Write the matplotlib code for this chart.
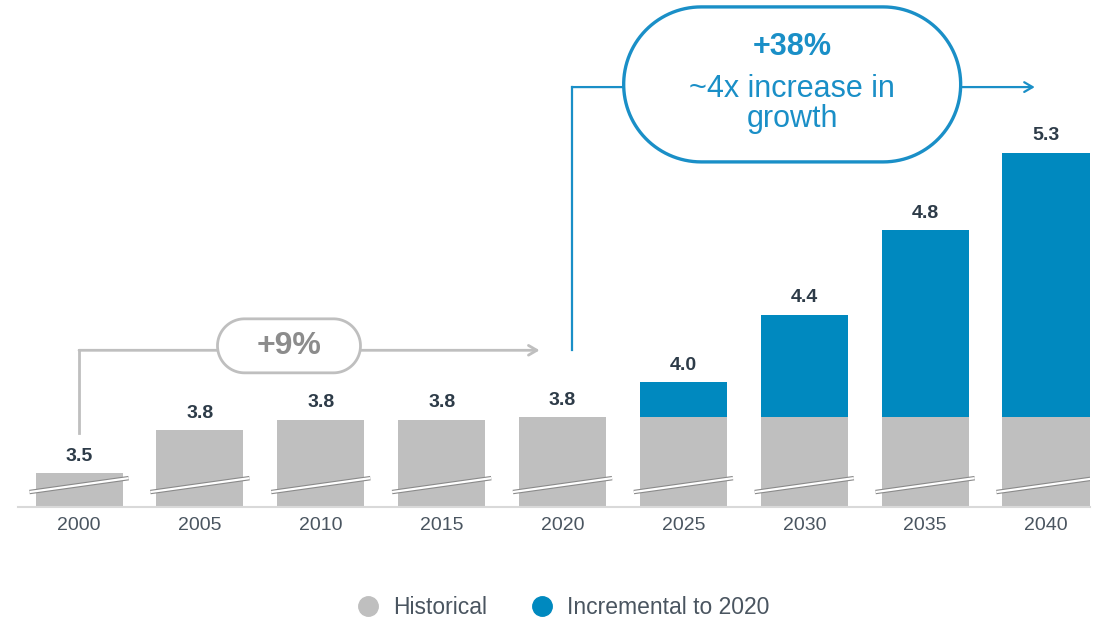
import numpy as np
import matplotlib.pyplot as plt
from matplotlib.patches import Polygon
from matplotlib.lines import Line2D
from matplotlib.transforms import IdentityTransform

plt.rcParams['font.family'] = ['Liberation Sans', 'DejaVu Sans']

# Data
years = ["2000", "2005", "2010", "2015", "2020", "2025", "2030", "2035", "2040"]
historical = [3.50, 3.74, 3.80, 3.80, 3.815, 3.815, 3.815, 3.815, 3.815]
totals = [3.50, 3.74, 3.80, 3.80, 3.815, 4.01, 4.39, 4.865, 5.30]
value_labels = ["3.5", "3.8", "3.8", "3.8", "3.8", "4.0", "4.4", "4.8", "5.3"]
incremental = [t - h for t, h in zip(totals, historical)]

GRAY = "#bfbfbf"
BLUE = "#0089bf"
LINE_BLUE = "#1a8fc7"
DARK = "#2d3b48"

base = 3.31  # broken axis floor

fig = plt.figure(figsize=(11.14, 6.18), dpi=100)
ax = fig.add_axes([18 / 1114, 111 / 618, 1072 / 1114, 507 / 618])
ax.set_xlim(-0.505, 8.364)
ax.set_ylim(base, 6.157)

x = np.arange(len(years))
hist_h = [h - base for h in historical]
ax.bar(x, hist_h, bottom=base, width=0.72, color=GRAY, zorder=2)
ax.bar(x, incremental, bottom=historical, width=0.72, color=BLUE, zorder=2)

# axis break marks
for xi in x:
    xs = [xi - 0.41, xi + 0.41]
    ys = [3.433 - 0.039, 3.433 + 0.039]
    ax.plot(xs, ys, color="#8a8a8a", lw=3.2, solid_capstyle="butt", zorder=3)
    ax.plot(xs, ys, color="white", lw=1.6, solid_capstyle="butt", zorder=4)

# value labels
for xi, t, lab in zip(x, totals, value_labels):
    ax.annotate(lab, (xi, t), xytext=(0, 6), textcoords="offset points",
                ha="center", va="bottom", fontsize=14, fontweight="bold", color=DARK)

# axes styling
for s in ["top", "right", "left"]:
    ax.spines[s].set_visible(False)
ax.spines["bottom"].set_color("#d9d9d9")
ax.spines["bottom"].set_linewidth(1.5)
ax.set_yticks([])
ax.set_xticks(x)
ax.set_xticklabels(years, fontsize=14, color="#4a5560")
ax.tick_params(axis="x", length=0, pad=7)


def pill(cx, cy, w, h, edge, lw):
    # stadium shape drawn in pixel space so the ends stay round
    px, py = ax.transData.transform((cx, cy))
    r = h / 2
    t1 = np.linspace(np.pi / 2, 3 * np.pi / 2, 60)
    t2 = np.linspace(-np.pi / 2, np.pi / 2, 60)
    left = np.column_stack([px - w / 2 + r + r * np.cos(t1), py + r * np.sin(t1)])
    right = np.column_stack([px + w / 2 - r + r * np.cos(t2), py + r * np.sin(t2)])
    p = Polygon(np.vstack([left, right]), closed=True, transform=IdentityTransform(),
                facecolor="white", edgecolor=edge, linewidth=lw, zorder=6, clip_on=False)
    ax.add_artist(p)


# historical growth connector
g_y = 4.19
ax.plot([0, 0], [3.725, g_y], color=GRAY, lw=2, zorder=5)
ax.annotate("", xy=(3.81, g_y), xytext=(0, g_y),
            arrowprops=dict(arrowstyle="->,head_length=0.6,head_width=0.35",
                            color=GRAY, lw=2, shrinkA=0, shrinkB=0), zorder=5)
pill(1.737, 4.215, 143, 54, GRAY, 2)
ax.text(1.737, 4.215, "+9%", ha="center", va="center", fontsize=23,
        fontweight="bold", color="#8c8c8c", zorder=7)

# future growth connector
b_y = 5.668
ax.plot([4.078, 4.078], [4.19, b_y], color=LINE_BLUE, lw=1.6, zorder=5)
ax.annotate("", xy=(7.907, b_y), xytext=(4.078, b_y),
            arrowprops=dict(arrowstyle="->,head_length=0.6,head_width=0.35",
                            color=LINE_BLUE, lw=1.6, shrinkA=0, shrinkB=0), zorder=5)
pill(5.90, 5.683, 337, 155, LINE_BLUE, 2.4)
ax.text(5.90, 5.893, "+38%", ha="center", va="center", fontsize=22,
        fontweight="bold", color=LINE_BLUE, zorder=7)
ax.text(5.90, 5.573, "~4x increase in\ngrowth", ha="center", va="center",
        fontsize=22, color=LINE_BLUE, linespacing=1.0, zorder=7)

# legend
handles = [
    Line2D([], [], marker="o", linestyle="none", markersize=14,
           markerfacecolor=GRAY, markeredgecolor=GRAY, label="Historical"),
    Line2D([], [], marker="o", linestyle="none", markersize=14,
           markerfacecolor=BLUE, markeredgecolor=BLUE, label="Incremental to 2020"),
]
leg = fig.legend(handles=handles, loc="center", bbox_to_anchor=(0.5, 10 / 618),
                 ncol=2, frameon=False, fontsize=16.5, handletextpad=0.1,
                 columnspacing=1.4, labelcolor="#4a5560")

fig.savefig("out.png", dpi=100)
